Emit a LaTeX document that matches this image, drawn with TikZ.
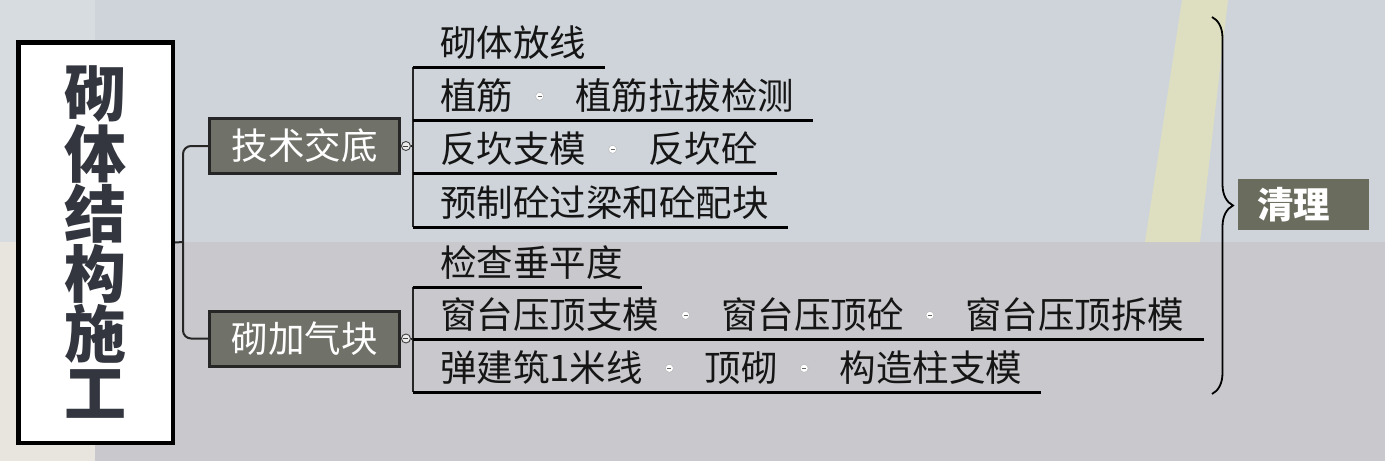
\documentclass[tikz,border=0pt]{standalone}
\usepackage{fontspec}
\usepackage{tikz}
\usepackage{xcolor}
\usetikzlibrary{positioning,decorations.pathreplacing}
\newfontfamily\cjk{Noto Sans CJK SC}
\definecolor{skyupper}{HTML}{CED4DA}
\definecolor{skylower}{HTML}{C8C8CD}
\definecolor{stripupper}{HTML}{D7DCE1}
\definecolor{striplower}{HTML}{E7E5DD}
\definecolor{stalk}{HTML}{DEDFC0}
\definecolor{branchgray}{HTML}{707169}
\definecolor{cleangray}{HTML}{6A6C5E}
\definecolor{titleink}{HTML}{33363F}
\definecolor{itemink}{HTML}{151515}
\tikzstyle{link}=[draw=black!85, line width=2pt]
\tikzstyle{uline}=[draw=black, line width=3pt]
\tikzstyle{topic}=[anchor=south west, inner xsep=19pt, inner ysep=6pt, text height=31pt, text depth=4pt, text=itemink, font=\cjk\fontsize{36.5}{40}\selectfont]
\tikzstyle{toggle}=[circle, fill=white, draw=black!30, line width=.4pt, minimum size=8pt, inner sep=0pt,
  path picture={\draw[black!60, line width=.8pt] ([xshift=-2pt]path picture bounding box.center) -- ([xshift=2pt]path picture bounding box.center);}]

\begin{document}
\begin{tikzpicture}[x=1pt, y=-1pt]
        % backdrop
        \fill[skyupper] (0,0) rectangle (1385,242);
        \fill[skylower] (0,242) rectangle (1385,461);
        \fill[stripupper] (0,0) rectangle (95,242);
        \fill[striplower] (0,242) rectangle (95,461);
        \fill[stalk] (1182,0) -- (1228,0) -- (1200,242) -- (1145,242) -- cycle;

        % root box with the vertical title
        \node (root) at (95.5,242.5) [draw=black, line width=4.5pt, fill=white, minimum width=154.5pt, minimum height=400.5pt] {};
        \foreach \c [count=\i from 0] in {砌,体,结,构,施,工}
            \node (h\i) at (95,94+60*\i) [inner sep=0pt, text=titleink, font=\cjk\bfseries\fontsize{62}{62}\selectfont] {\c};

        % first level
        \tikzset{mainbranch/.style={draw=black!85, line width=3pt, fill=branchgray, text=white, minimum width=190pt, minimum height=55pt, inner sep=0pt, font=\cjk\fontsize{36.5}{40}\selectfont}}
        \node (t1) at (304.5,146) [mainbranch] {技术交底};
        \node (t2) at (304.5,338.5) [mainbranch] {砌加气块};
        \coordinate (f0) at (183,242);
        \draw[link] (root.east) -- (f0);
        \draw[link, rounded corners=8pt] (t1.west) -| (f0) |- (t2.west);

        \tikzset{knob/.style={circle, draw=black!75, fill=black!8, line width=.9pt, minimum size=9pt, inner sep=0pt,
          path picture={\draw[black!75, line width=.8pt] ([xshift=-2.5pt]path picture bounding box.center) -- ([xshift=2.5pt]path picture bounding box.center);}}}
        \node (c1) [knob, right=0pt of t1] {};
        \node (c2) [knob, right=0pt of t2] {};
        \coordinate (f1) at (413,146);
        \coordinate (f2) at (413,338.5);
        \draw[link] (c1) -- (f1);
        \draw[link] (c2) -- (f2);

        % technical briefing
        \node (a1) at (421,67) [topic] {砌体放线};
        \node (a2) at (421,120) [topic] {植筋};
        \node (d1) [toggle, right=3pt of a2] {};
        \node (a5) [topic, right=12pt of d1] {植筋拉拔检测};
        \node (a3) at (421,173) [topic] {反坎支模};
        \node (d2) [toggle, right=3pt of a3] {};
        \node (a6) [topic, right=12pt of d2] {反坎砼};
        \node (a4) at (421,227) [topic] {预制砼过梁和砼配块};

        \draw[link] (f1 |- a1.south) -- (f1 |- a4.south);
        \draw[uline] (f1 |- a1.south) -- (a1.south east);
        \draw[uline] (f1 |- a2.south) -- (a5.south west) -- (a5.south east);
        \draw[uline] (f1 |- a3.south) -- (a6.south west) -- (a6.south east);
        \draw[uline] (f1 |- a4.south) -- (a4.south east);

        % aerated blocks
        \node (b1) at (421,287) [topic] {检查垂平度};
        \node (b2) at (421,339) [topic] {窗台压顶支模};
        \node (d3) [toggle, right=3pt of b2] {};
        \node (b4) [topic, right=12pt of d3] {窗台压顶砼};
        \node (d4) [toggle, right=3pt of b4] {};
        \node (b5) [topic, right=12pt of d4] {窗台压顶拆模};
        \node (b3) at (421,392) [topic] {弹建筑1米线};
        \node (d5) [toggle, right=3pt of b3] {};
        \node (b6) [topic, right=12pt of d5] {顶砌};
        \node (d6) [toggle, right=3pt of b6] {};
        \node (b7) [topic, right=12pt of d6] {构造柱支模};

        \draw[link] (f2 |- b1.south) -- (f2 |- b3.south);
        \draw[uline] (f2 |- b1.south) -- (b1.south east);
        \draw[uline] (f2 |- b2.south) -- (b4.south west) -- (b5.south west) -- (b5.south east);
        \draw[uline] (f2 |- b3.south) -- (b6.south west) -- (b7.south west) -- (b7.south east);

        % brace and cleanup
        \coordinate (br1) at (1212,17);
        \coordinate (br2) at (1212,394);
        \draw[black, line width=1.8pt, decorate, decoration={brace, amplitude=21pt}] (br1) -- (br2);
        \node (ql) at (1238,204.5) [anchor=west, fill=cleangray, text=white, text width=93pt, inner xsep=19pt, minimum height=51pt, align=left, font=\cjk\bfseries\fontsize{36.5}{40}\selectfont] {清理};
\end{tikzpicture}
\end{document}
